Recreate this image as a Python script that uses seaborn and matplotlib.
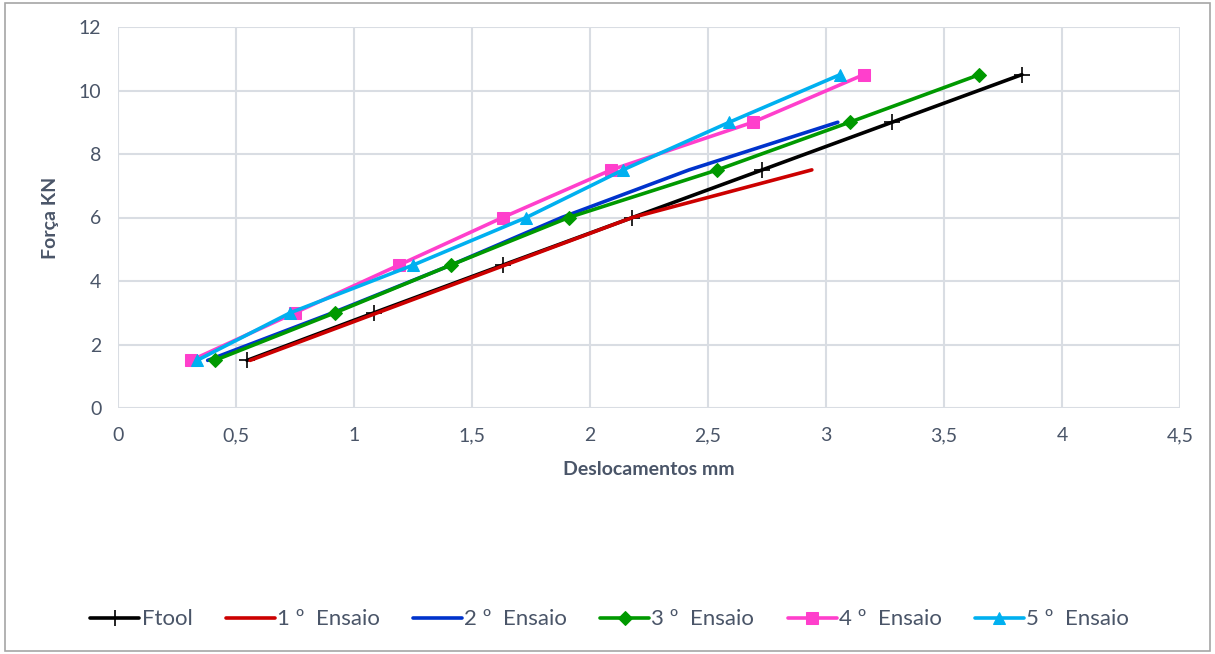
import matplotlib
matplotlib.use("Agg")
import matplotlib.pyplot as plt
import seaborn as sns
import pandas as pd
from matplotlib.patches import Rectangle

# Force levels (kN) applied in each test step
forca = [1.5, 3.0, 4.5, 6.0, 7.5, 9.0, 10.5]

# Displacements (mm) per series
ftool = [0.547, 1.085, 1.63, 2.18, 2.73, 3.28, 3.83]
ensaio1 = [0.56, 1.10, 1.64, 2.18, 2.94]
ensaio2 = [0.38, 0.91, 1.41, 1.88, 2.42, 3.05]
ensaio3 = [0.41, 0.92, 1.41, 1.91, 2.54, 3.10, 3.65]
ensaio4 = [0.31, 0.75, 1.19, 1.63, 2.09, 2.69, 3.16]
ensaio5 = [0.335, 0.73, 1.25, 1.73, 2.14, 2.59, 3.06]

series_names = ["Ftool", "1 º  Ensaio", "2 º  Ensaio", "3 º  Ensaio", "4 º  Ensaio", "5 º  Ensaio"]
series_x = [ftool, ensaio1, ensaio2, ensaio3, ensaio4, ensaio5]

colors = ["#000000", "#CC0000", "#0033CC", "#009900", "#FF3FCC", "#00B0F0"]
markers = ["+", None, None, "D", "s", "^"]
msizes = [11, 0, 0, 7, 8, 9]

sns.set_theme(style="white")
plt.rcParams["font.family"] = ["Lato", "DejaVu Sans"]

fig = plt.figure(figsize=(12.15, 6.54), dpi=100)
ax = fig.add_axes([118 / 1215, 1 - 408 / 654, (1180 - 118) / 1215, (408 - 27) / 654])

for name, xs, c, m, ms in zip(series_names, series_x, colors, markers, msizes):
    df = pd.DataFrame({"Deslocamentos": xs, "Forca": forca[:len(xs)]})
    kw = dict(marker=m, markersize=ms, markeredgecolor=c, markerfacecolor=c)
    if m == "+":
        kw["markeredgewidth"] = 1.2
    elif m is None:
        kw = {}
    sns.lineplot(data=df, x="Deslocamentos", y="Forca", ax=ax, color=c,
                 linewidth=2.6, sort=False, label=name, clip_on=False, **kw)

ax.set_xlim(0, 4.5)
ax.set_ylim(0, 12)
ax.set_xticks([0, 0.5, 1, 1.5, 2, 2.5, 3, 3.5, 4, 4.5])
ax.set_xticklabels(["0", "0,5", "1", "1,5", "2", "2,5", "3", "3,5", "4", "4,5"])
ax.set_yticks([0, 2, 4, 6, 8, 10, 12])
ax.grid(True, color="#D9DDE3", linewidth=1.5)
ax.set_axisbelow(True)
for s in ax.spines.values():
    s.set_visible(False)

text_col = "#4A5568"
ax.tick_params(axis="both", colors=text_col, labelsize=14, length=0)
ax.tick_params(axis="x", pad=14)
ax.tick_params(axis="y", pad=12)
ax.set_xlabel("Deslocamentos mm", fontsize=14, fontweight="bold", color=text_col, labelpad=12)
ax.set_ylabel("Força KN", fontsize=14, fontweight="bold", color=text_col, labelpad=14)

ax.legend(loc="center", bbox_to_anchor=(0.463, -0.555),
          ncol=6, frameon=False, fontsize=16, handlelength=2.2, handletextpad=0.1,
          columnspacing=1.5, labelcolor=text_col)

fig.add_artist(Rectangle((0.004, 0.004), 0.992, 0.992, transform=fig.transFigure,
                         fill=False, edgecolor="#A6A6A6", linewidth=1.2))

fig.savefig("out.png", dpi=100)
